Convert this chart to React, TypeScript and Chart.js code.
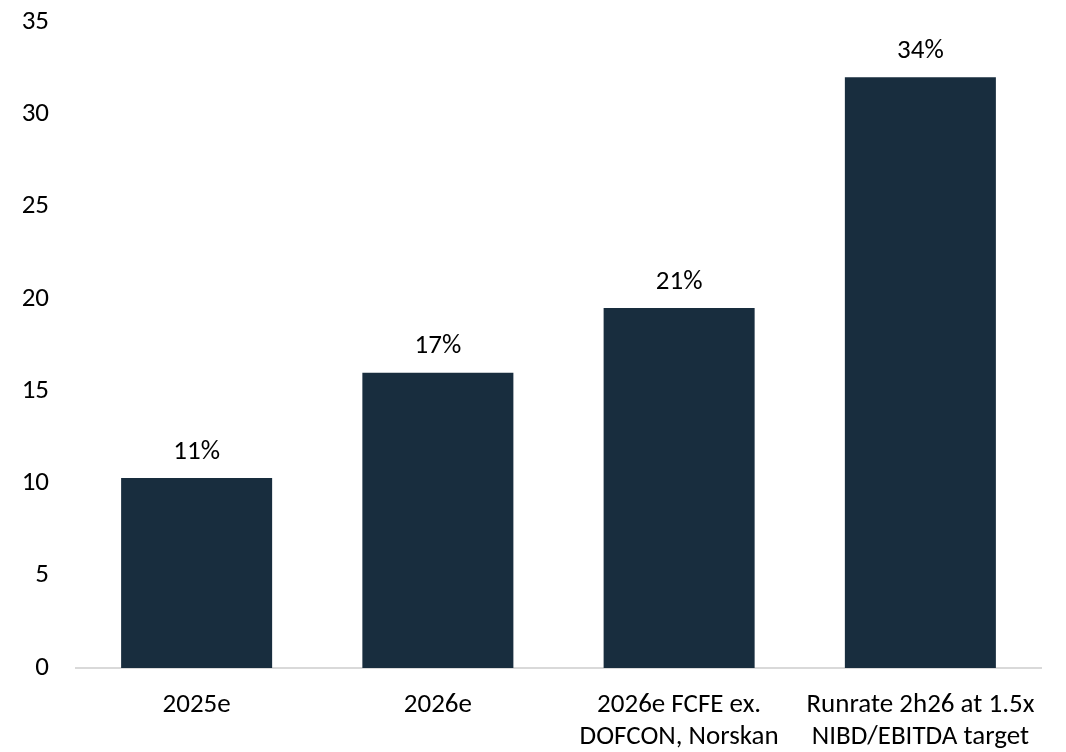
import React, { useEffect, useRef } from "react";
import { Chart, registerables } from "chart.js";

Chart.register(...registerables);

const categories: (string | string[])[] = [
  "2025e",
  "2026e",
  ["2026e FCFE ex.", "DOFCON, Norskan"],
  ["Runrate 2h26 at 1.5x", "NIBD/EBITDA target"],
];
const values = [10.3, 16.0, 19.5, 32.0];
const valueLabels = ["11%", "17%", "21%", "34%"];
const yTicks = [0, 5, 10, 15, 20, 25, 30, 35];

const FONT = "Carlito, Calibri, Lato, sans-serif";
const FS = 27;
const BAR = "#182d3e";

const labelPlugin = {
  id: "barLabels",
  afterDatasetsDraw(chart: any) {
    const ctx = chart.ctx;
    const meta = chart.getDatasetMeta(0);
    ctx.save();
    ctx.font = `${FS}px ${FONT}`;
    ctx.fillStyle = "#000";
    ctx.textAlign = "center";
    ctx.textBaseline = "middle";
    meta.data.forEach((bar: any, i: number) => {
      ctx.fillText(valueLabels[i], bar.x, bar.y - 26);
    });
    ctx.restore();
  },
};

export default function App() {
  const ref = useRef<HTMLCanvasElement | null>(null);
  useEffect(() => {
    if (!ref.current) return;
    const chart = new Chart(ref.current, {
      type: "bar",
      data: {
        labels: categories,
        datasets: [
          {
            data: values,
            backgroundColor: BAR,
            barPercentage: 0.626,
            categoryPercentage: 1,
          },
        ],
      },
      options: {
        animation: false,
        responsive: false,
        maintainAspectRatio: false,
        layout: { padding: { top: 22, right: 25, left: 0, bottom: 0 } },
        plugins: { legend: { display: false }, tooltip: { enabled: false } },
        scales: {
          x: {
            grid: { display: false, drawTicks: false },
            border: { display: true, color: "#d9d9d9", width: 2 },
            ticks: {
              color: "#000",
              font: { family: FONT, size: FS, lineHeight: 32 / FS },
              padding: 21,
              maxRotation: 0,
              autoSkip: false,
            },
            afterFit: (axis: any) => {
              axis.height = 84;
            },
          },
          y: {
            min: 0,
            max: 35,
            afterBuildTicks: (axis: any) => {
              axis.ticks = yTicks.map((v) => ({ value: v }));
            },
            grid: { display: false, drawTicks: false },
            border: { display: false },
            ticks: {
              color: "#000",
              font: { family: FONT, size: FS },
              padding: 27,
            },
            afterFit: (axis: any) => {
              axis.width = 76;
              axis.paddingTop = 0;
              axis.paddingBottom = 0;
            },
          },
        },
      },
      plugins: [labelPlugin],
    });
    return () => chart.destroy();
  }, []);
  return (
    <div style={{ position: "fixed", left: 0, top: 0, width: 1066, height: 752, background: "#fff" }}>
      <canvas ref={ref} width={1066} height={752} style={{ width: 1066, height: 752 }} />
    </div>
  );
}
